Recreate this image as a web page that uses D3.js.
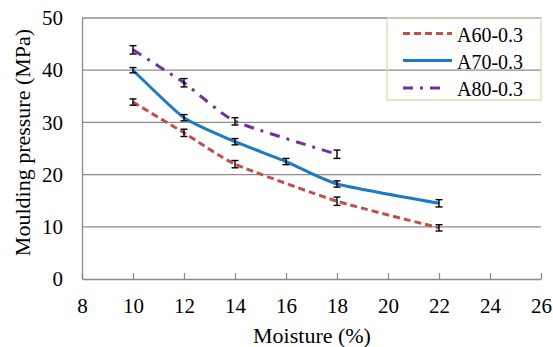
<!DOCTYPE html>
<html>
<head>
<meta charset="utf-8">
<script src="https://cdn.jsdelivr.net/npm/d3@7/dist/d3.min.js"></script>
<style>
  html, body { margin: 0; padding: 0; background: #fff; }
  svg { display: block; }
</style>
</head>
<body>
<svg id="chart" width="553" height="347"></svg>
<script>
// Moulding pressure vs. moisture content for three binder formulations
const xTicks = [8, 10, 12, 14, 16, 18, 20, 22, 24, 26];
const yTicks = [0, 10, 20, 30, 40, 50];

const moistureA60 = [10, 12, 14, 18, 22];
const pressureA60 = [33.9, 28.0, 22.0, 14.9, 9.8];
const errorA60    = [0.6, 0.7, 0.7, 0.8, 0.6];

const moistureA70 = [10, 12, 14, 16, 18, 22];
const pressureA70 = [40.0, 30.9, 26.3, 22.5, 18.2, 14.5];
const errorA70    = [0.5, 0.6, 0.6, 0.6, 0.6, 0.7];

const moistureA80 = [10, 12, 14, 18];
const pressureA80 = [43.9, 37.6, 30.2, 23.9];
const errorA80    = [0.8, 0.8, 0.7, 0.8];

const seriesNames = ["A60-0.3", "A70-0.3", "A80-0.3"];

const series = [
  { name: seriesNames[0], xs: moistureA60, ys: pressureA60, es: errorA60, color: "#c0504d", dash: "7,4", legendEnd: 452 },
  { name: seriesNames[1], xs: moistureA70, ys: pressureA70, es: errorA70, color: "#1f7bc0", dash: null, legendEnd: 452 },
  { name: seriesNames[2], xs: moistureA80, ys: pressureA80, es: errorA80, color: "#7030a0", dash: "10,7,3,7", legendEnd: 445 }
];

const FONT = "Liberation Serif";

const svg = d3.select("#chart");
const plot = { left: 82, right: 541, top: 18, bottom: 279 };

const x = d3.scaleLinear().domain([8, 26]).range([plot.left, plot.right]);
const y = d3.scaleLinear().domain([0, 50]).range([plot.bottom, plot.top]);

// horizontal gridlines
svg.append("g")
  .selectAll("line")
  .data(yTicks.filter(v => v > 0))
  .join("line")
  .attr("x1", plot.left).attr("x2", plot.right)
  .attr("y1", d => y(d)).attr("y2", d => y(d))
  .attr("stroke", "#8c8c8c").attr("stroke-width", 1.3);

// y axis
const yAxis = svg.append("g")
  .attr("transform", `translate(${plot.left},0)`)
  .call(d3.axisLeft(y).tickValues(yTicks).tickSize(0).tickPadding(19));
yAxis.attr("font-family", FONT).attr("font-size", 21);
yAxis.select(".domain").attr("stroke", "#8c8c8c").attr("stroke-width", 1.3);
yAxis.selectAll("text").attr("fill", "#000");

// x axis with inward ticks
const xAxis = svg.append("g")
  .attr("transform", `translate(0,${plot.bottom})`)
  .call(d3.axisBottom(x).tickValues(xTicks).tickSizeInner(-6).tickSizeOuter(0).tickPadding(19));
xAxis.attr("font-family", FONT).attr("font-size", 21);
xAxis.select(".domain").attr("stroke", "#8c8c8c").attr("stroke-width", 1.3);
xAxis.selectAll(".tick line").attr("stroke", "#8c8c8c").attr("stroke-width", 1.3);
xAxis.selectAll("text").attr("fill", "#000");

// axis titles
svg.append("text")
  .attr("x", (plot.left + plot.right) / 2 + 0.5).attr("y", 343)
  .attr("text-anchor", "middle")
  .attr("font-family", FONT).attr("font-size", 22)
  .text("Moisture (%)");

svg.append("text")
  .attr("transform", `translate(30,${(plot.top + plot.bottom) / 2 - 6}) rotate(-90)`)
  .attr("text-anchor", "middle")
  .attr("font-family", FONT).attr("font-size", 22)
  .text("Moulding pressure (MPa)");

// series lines
const line = d3.line()
  .x(d => x(d[0])).y(d => y(d[1]))
  .curve(d3.curveCardinal.tension(0.5));

series.forEach(s => {
  const pts = s.xs.map((v, i) => [v, s.ys[i]]);
  svg.append("path")
    .datum(pts)
    .attr("d", line)
    .attr("fill", "none")
    .attr("stroke", s.color)
    .attr("stroke-width", 3)
    .attr("stroke-dasharray", s.dash);
});

// error bars
series.forEach(s => {
  const g = svg.append("g").attr("stroke", "#000").attr("stroke-width", 1.4);
  s.xs.forEach((v, i) => {
    const cx = x(v), y1 = y(s.ys[i] + s.es[i]), y0 = y(s.ys[i] - s.es[i]);
    g.append("line").attr("x1", cx).attr("x2", cx).attr("y1", y1).attr("y2", y0);
    g.append("line").attr("x1", cx - 3.5).attr("x2", cx + 3.5).attr("y1", y1).attr("y2", y1);
    g.append("line").attr("x1", cx - 3.5).attr("x2", cx + 3.5).attr("y1", y0).attr("y2", y0);
  });
});

// legend
const legend = svg.append("g");
legend.append("rect")
  .attr("x", 387).attr("y", 18).attr("width", 154).attr("height", 82)
  .attr("fill", "none").attr("stroke", "#d9d9b8").attr("stroke-width", 1.3);

const legendRows = [33.5, 60.5, 88];
series.forEach((s, i) => {
  legend.append("line")
    .attr("x1", 403).attr("x2", s.legendEnd)
    .attr("y1", legendRows[i]).attr("y2", legendRows[i])
    .attr("stroke", s.color).attr("stroke-width", 3)
    .attr("stroke-dasharray", s.dash);
  legend.append("text")
    .attr("x", 457).attr("y", legendRows[i] + 8)
    .attr("font-family", FONT).attr("font-size", 20)
    .text(s.name);
});
</script>
</body>
</html>
